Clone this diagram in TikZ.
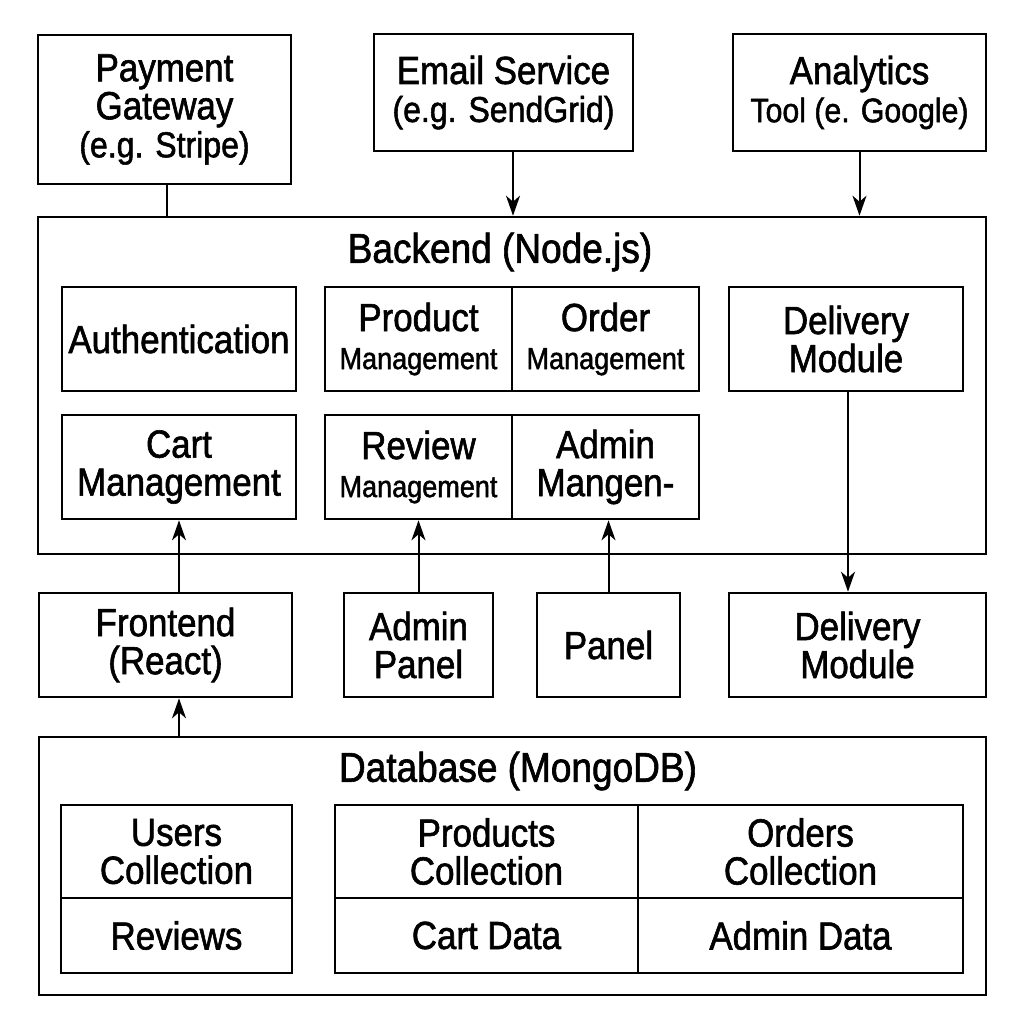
\documentclass[tikz,border=0pt]{standalone}
\usepackage{fontspec}
\setmainfont{Liberation Sans}[FakeBold=1.5, FakeStretch=0.89]
\usetikzlibrary{arrows.meta}

\newcommand\mainsz{\fontsize{19.6}{19}\selectfont}
\newcommand\subsz{\fontsize{15.2}{18.5}\selectfont}
\newcommand\parsz{\fontsize{18}{20}\selectfont}
\newcommand\headsz{\fontsize{20.8}{22}\selectfont}

\tikzset{
  box/.style={draw, line width=1.3pt, align=center, inner sep=0pt, font=\mainsz},
  unit/.style={box, minimum width=117pt, minimum height=52pt},
  half/.style={box, minimum width=93.5pt, minimum height=52pt},
  conn/.style={line width=1pt},
  arr/.style={conn, -{Stealth[length=10pt,width=7pt,inset=3pt]}},
}

\begin{document}
\begin{tikzpicture}[x=0.5pt,y=-0.5pt]
  \useasboundingbox[fill=white] (0,0) rectangle (1024,1024);

  % External services
  \node[box, minimum width=126.5pt, minimum height=74.5pt] (payment) at (164.5,109.5)
    {Payment\\Gateway\\{\parsz (e.g. Stripe)}};
  \node[box, minimum width=129.5pt, minimum height=58.5pt] (email) at (503.5,92.5)
    {Email Service\\{\parsz (e.g. SendGrid)}};
  \node[box, minimum width=126.5pt, minimum height=58.5pt] (analytics) at (859.5,92.5)
    {Analytics\\{\fontsize{17}{19}\selectfont Tool (e. Google)}};

  % Backend container
  \node[box, minimum width=474pt, minimum height=168.5pt] (backend) at (512,385.5) {};
  \node[font=\headsz] (backendtitle) at (500,252) {Backend (Node.js)};

  % Backend modules
  \node[unit] (auth) at (179,339) {Authentication};
  \node[half] (product) at (418.5,339) {Product\\{\subsz Management}};
  \node[half] (order) at (605.5,339) {Order\\{\subsz Management}};
  \node[unit] (delivery) at (846,339) {Delivery\\Module};
  \node[unit] (cart) at (179,467) {Cart\\Management};
  \node[half] (review) at (418.5,467) {Review\\{\subsz Management}};
  \node[half] (admin) at (605.5,467) {Admin\\Mangen-};

  % Clients
  \node[box, minimum width=126.5pt, minimum height=52pt] (frontend) at (165.5,645) {Frontend\\(React)};
  \node[box, minimum width=74.5pt, minimum height=52pt] (adminpanel) at (418.5,645) {Admin\\Panel};
  \node[box, minimum width=71.5pt, minimum height=52pt] (panel) at (608.5,645) {Panel};
  \node[box, minimum width=128.5pt, minimum height=52pt] (deliveryout) at (857.5,645) {Delivery\\Module};

  % Database container
  \node[box, minimum width=473.5pt, minimum height=129pt] (database) at (512.5,866) {};
  \node[font=\headsz] (dbtitle) at (518,771) {Database (MongoDB)};

  % Collections
  \node[box, minimum width=115.5pt, minimum height=46.5pt] (users) at (176.5,851.5) {Users\\Collection};
  \node[box, minimum width=115.5pt, minimum height=37.5pt] (reviews) at (176.5,935.5) {Reviews};
  \node[box, minimum width=151.5pt, minimum height=46.5pt] (products) at (486.5,851.5) {Products\\Collection};
  \node[box, minimum width=162.5pt, minimum height=46.5pt] (orders) at (800.5,851.5) {Orders\\Collection};
  \node[box, minimum width=151.5pt, minimum height=37.5pt] (cartdata) at (486.5,935.5) {Cart Data};
  \node[box, minimum width=162.5pt, minimum height=37.5pt] (admindata) at (800.5,935.5) {Admin Data};

  % Connectors
  \draw[conn] ([xshift=1.25pt]payment.south) -- ([xshift=1.25pt]payment.south |- backend.north);
  \draw[arr] ([xshift=4.75pt]email.south) -- ([xshift=4.75pt]email.south |- backend.north);
  \draw[arr] (analytics.south) -- (analytics.south |- backend.north);
  \draw[arr] (frontend.north -| cart.south) -- (cart.south);
  \draw[arr] (adminpanel.north) -- (review.south);
  \draw[arr] (panel.north) -- (panel.north |- admin.south);
  \draw[arr] ([xshift=1pt]delivery.south) -- ([xshift=1pt]delivery.south |- deliveryout.north);
  \draw[arr] (database.north -| cart.south) -- (frontend.south -| cart.south);

\end{tikzpicture}
\end{document}
